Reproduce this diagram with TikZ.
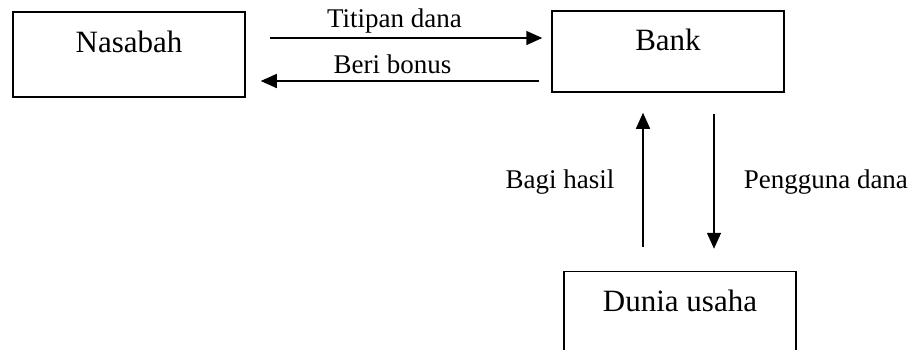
\documentclass[tikz,border=0pt]{standalone}
\usepackage{fontspec}
\setmainfont{Liberation Serif}
\usetikzlibrary{arrows.meta,positioning}

\begin{document}
\begin{tikzpicture}[
  x=1pt, y=1pt,
  box/.style={draw, line width=1.5pt, minimum width=232pt, inner sep=0pt,
              font=\fontsize{31}{37}\selectfont},
  lbl/.style={inner sep=0pt, font=\fontsize{27}{32}\selectfont},
  arr/.style={-{Triangle[length=16pt,width=14pt]}, line width=1.5pt}
]
\clip (0,0) rectangle (909,-349);

\node[box, text height=40pt, text depth=45pt] (nasabah) at (129,-54.5) {Nasabah};
\node[box, text height=39pt, text depth=42pt] (bank) at (668,-51.5) {Bank};
\node[box, text height=40pt, text depth=45pt, below=178pt of bank, xshift=12pt] (dunia) {Dunia usaha};

\coordinate (titip) at ([yshift=13.5pt]bank.west);
\coordinate (bonus) at ([yshift=-29.5pt]bank.west);
\coordinate (bagi)  at ([xshift=-37pt]dunia.north);
\coordinate (guna)  at ([xshift=34pt]dunia.north);

\draw[arr, shorten <=24pt, shorten >=9pt] (nasabah.east |- titip) -- (titip)
  node[lbl, pos=0.487, above=11pt, anchor=base] {Titipan dana};
\draw[arr, shorten <=12pt, shorten >=15pt] (bonus) -- (nasabah.east |- bonus)
  node[lbl, pos=0.52, above=8pt, anchor=base] {Beri bonus};
\draw[arr, shorten <=24pt, shorten >=20pt] (bagi) -- (bagi |- bank.south)
  node[lbl, midway, left=28pt] {Bagi hasil};
\draw[arr, shorten <=21pt, shorten >=22pt] (guna |- bank.south) -- (guna)
  node[lbl, midway, right=29pt] {Pengguna dana};
\end{tikzpicture}
\end{document}
